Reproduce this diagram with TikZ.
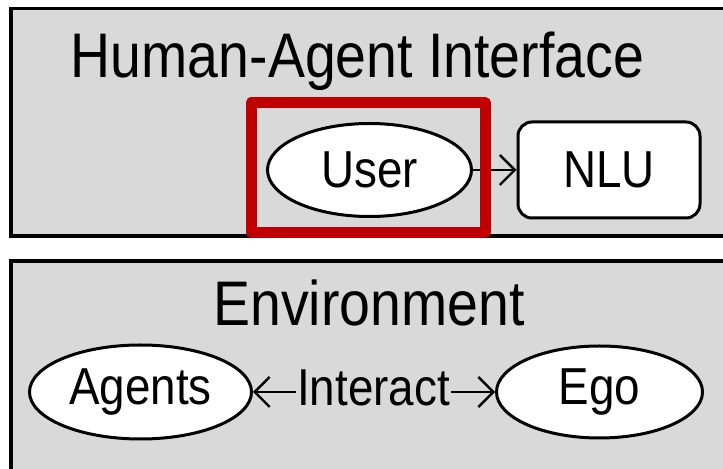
\documentclass[tikz,border=0pt]{standalone}
\usepackage{fontspec}
\setmainfont{Liberation Sans}[FakeStretch=0.88]
\usepackage{tikz}
\usetikzlibrary{arrows.meta,shapes.geometric,positioning}
\definecolor{hagray}{RGB}{217,217,217}
\definecolor{hared}{RGB}{192,0,0}
\tikzstyle{panel} = [draw=black, line width=1.75pt, fill=hagray]
\tikzstyle{title} = [font=\fontsize{31.5}{36}\selectfont, anchor=base, inner sep=0pt]
\tikzstyle{actor} = [ellipse, draw=black, line width=1.5pt, fill=white, inner sep=0pt, font=\fontsize{26}{30}\selectfont]
\tikzstyle{module} = [rectangle, rounded corners=7pt, draw=black, line width=1.5pt, fill=white, font=\fontsize{26}{30}\selectfont]
\tikzstyle{arrow} = [line width=1.2pt, -{Straight Barb[length=7.5pt,width=15pt]}]

\begin{document}
\begin{tikzpicture}[x=0.5pt, y=-0.5pt]
\useasboundingbox (0,0) rectangle (723,469);
% Two panels, both run off the page
\draw[panel] (11,8.5) rectangle (760,236);
\draw[panel] (11,261) rectangle (760,520);

% Human-Agent Interface panel
\node[title] (hai) at (357.5,78) {Human-Agent Interface};
\node[actor, minimum width=102pt, minimum height=46.5pt] (user) at (369.5,170) {User};
\node[module, minimum width=91pt, minimum height=48pt] (nlu) at (609,170) {NLU};
\draw[arrow] (user) -- (nlu);
% highlight round the user
\draw[draw=hared, line width=5.5pt, line join=round] (251,103) rectangle (485.5,232.5);

% Environment panel
\node[title] (env) at (369,326) {Environment};
\node[actor, minimum width=111pt, minimum height=47pt] (agents) at (140.5,392) {Agents};
\node[actor, minimum width=103pt, minimum height=46pt] (ego) at (599.5,392) {Ego};
\node[font=\fontsize{26}{30}\selectfont, inner sep=0.5pt] (interact) at (373.5,388) {Interact};
\draw[arrow] (interact.west |- agents) -- (agents);
\draw[arrow] (interact.east |- ego) -- (ego);
\end{tikzpicture}
\end{document}
